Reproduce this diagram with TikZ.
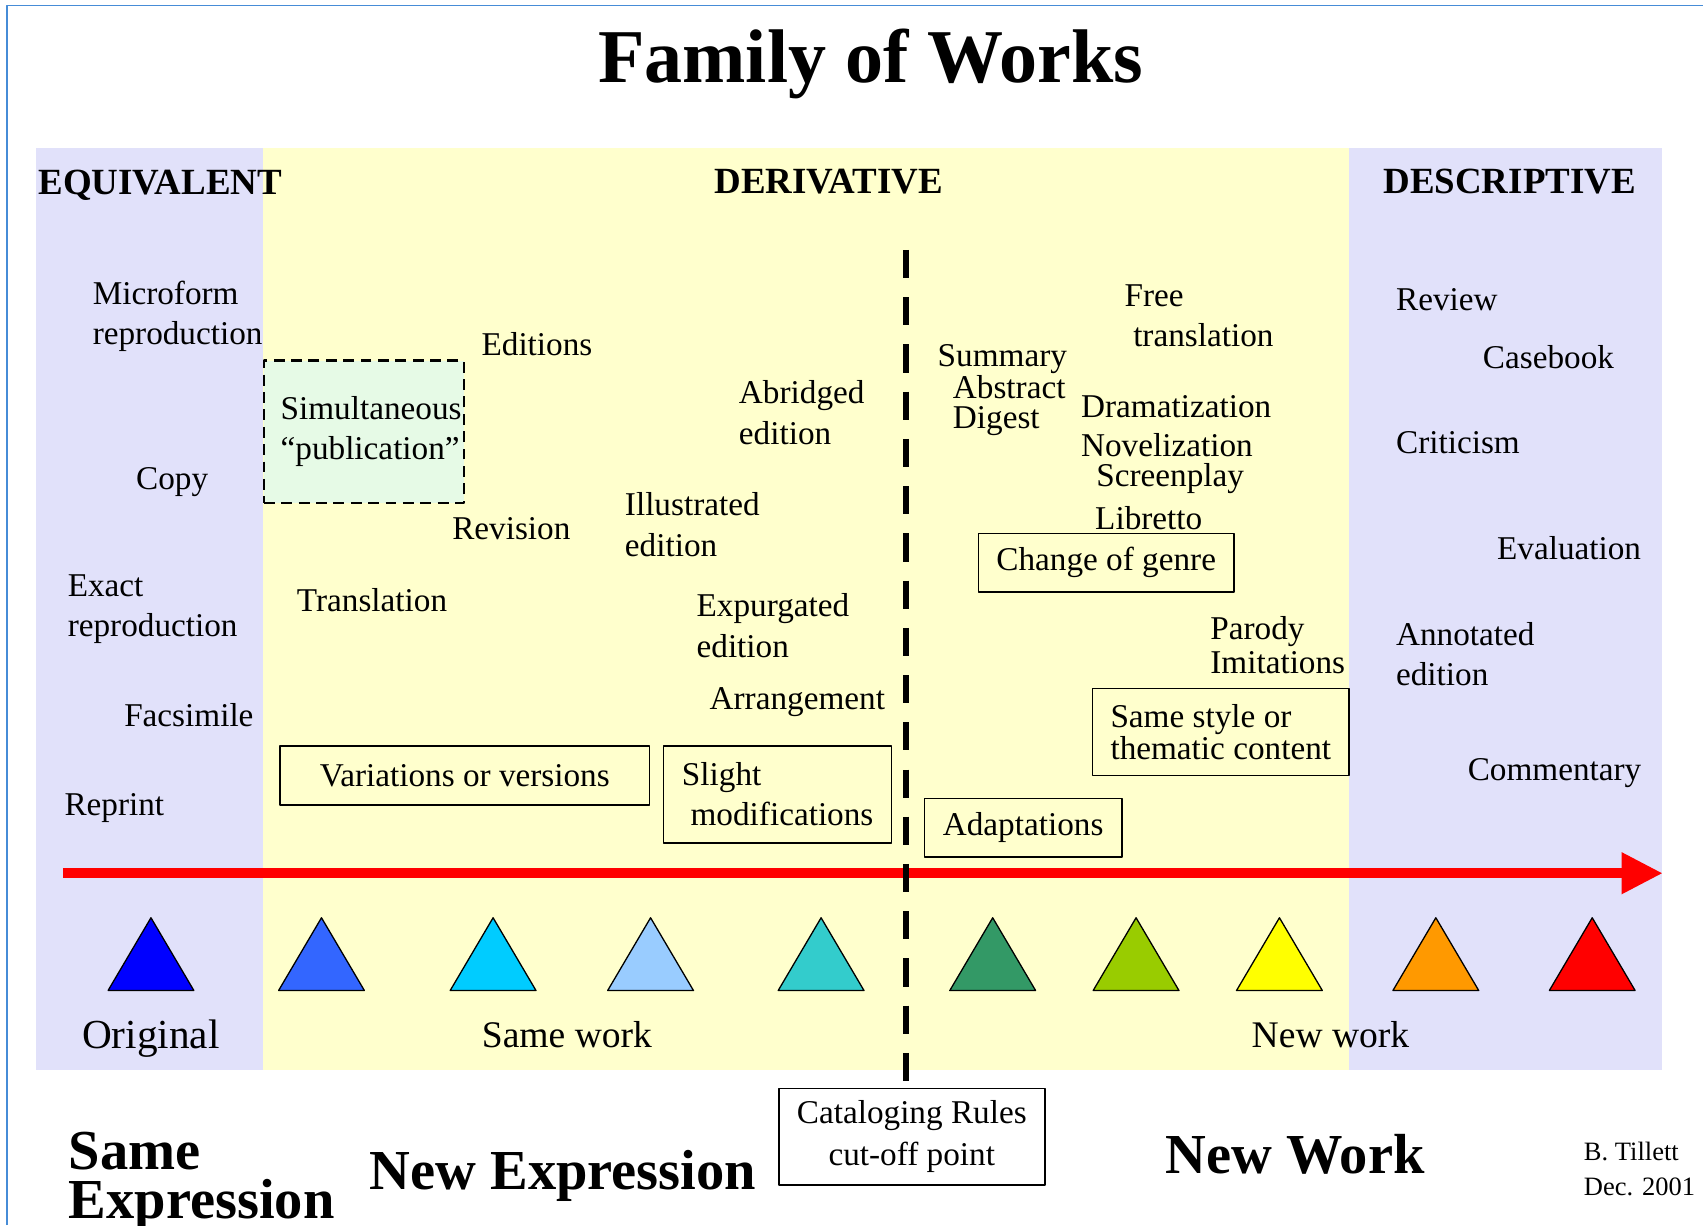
\documentclass[tikz,border=0pt]{standalone}
\usepackage{fontspec}
\setmainfont{Liberation Serif}
\usetikzlibrary{arrows.meta}

\definecolor{lavender}{RGB}{225,225,250}
\definecolor{paleyellow}{RGB}{255,255,205}
\definecolor{palegreen}{RGB}{230,250,230}
\definecolor{frameblue}{RGB}{70,140,215}

\begin{document}
\begin{tikzpicture}[x=0.5pt, y=-0.5pt,
  every node/.style={inner sep=0pt},
  item/.style={anchor=west, align=left, font=\fontsize{15.3}{18.5}\selectfont},
  head/.style={font=\bfseries\fontsize{17}{20}\selectfont},
  big/.style={anchor=west, align=left, font=\bfseries\fontsize{26}{22.5}\selectfont},
  framed/.style={draw=black, line width=0.7pt, align=left,
    font=\fontsize{15.3}{18.5}\selectfont},
  line join=round]

  \useasboundingbox (0,0) rectangle (1568,1128);

  % Frame
  \draw [frameblue, line width=0.8pt] (6.5,1128) -- (6.5,5) -- (1568,5);

  % Draw bands
  \fill [lavender] (33,136) rectangle (242,985);
  \fill [paleyellow] (242,136) rectangle (1242,985);
  \fill [lavender] (1242,136) rectangle (1530,985);

  % Titles
  \node [font=\bfseries\fontsize{35}{40}\selectfont] (title) at (801.5,58.5) {Family of Works};
  \node [head, anchor=west] (equiv) at (35,171) {EQUIVALENT};
  \node [head] (deriv) at (763,167) {DERIVATIVE};
  \node [head] (descr) at (1390,167) {DESCRIPTIVE};

  % Equivalent
  \node [item] (microform) at (85,291) {Microform\\reproduction};
  \node [item] (copy) at (125,444) {Copy};
  \node [item] (exact) at (62,561) {Exact\\reproduction};
  \node [item] (facsimile) at (114,658) {Facsimile};
  \node [item] (reprint) at (59,744) {Reprint};

  % Derivative, same work
  \node [draw=black, dashed, line width=1pt, dash pattern=on 5pt off 3pt, fill=palegreen,
    minimum width=92pt, minimum height=65.5pt] (simul) at (335,397.5) {};
  \node [item] (simultext) at ([xshift=8pt]simul.west) {Simultaneous\\“publication”};
  \node [item] (editions) at (443,317) {Editions};
  \node [item] (revision) at (416,487) {Revision};
  \node [item] (translation) at (273,553) {Translation};
  \node [item] (abridged) at (680,380) {Abridged\\edition};
  \node [item] (illustrated) at (575,483) {Illustrated\\edition};
  \node [item] (expurgated) at (641,576) {Expurgated\\edition};
  \node [item] (arrangement) at (653,646) {Arrangement};
  \node [framed, minimum width=170pt, minimum height=27pt] (variations) at (428,714)
    {Variations or versions};
  \node [framed, minimum width=105pt, minimum height=44.5pt] (slight) at (716,731.5)
    {Slight\\\hspace*{4pt}modifications};

  % Derivative, new work
  \node [item, font=\fontsize{15.3}{13.5}\selectfont] (summary) at (863,359)
    {Summary\\\hspace*{7pt}Abstract\\\hspace*{7pt}Digest};
  \node [item] (freetrans) at (1035,290.5) {Free\\\hspace*{4pt}translation};
  \node [item] (dramatization) at (995,374) {Dramatization};
  \node [item] (novelization) at (995,410) {Novelization};
  \node [item] (screenplay) at (1009,441) {Screenplay};
  \node [item] (libretto) at (1008,477) {Libretto};
  \node [framed, minimum width=117.5pt, minimum height=27pt] (genre) at (1018.5,518)
    {Change of genre};
  \node [item, font=\fontsize{15.3}{16}\selectfont] (parody) at (1114,594) {Parody\\Imitations};
  \node [framed, font=\fontsize{15.3}{13.5}\selectfont, minimum width=118pt, minimum height=40pt]
    (samestyle) at (1124,674) {Same style or\\thematic content};
  \node [framed, minimum width=91pt, minimum height=27pt] (adaptations) at (942,762)
    {Adaptations};

  % Descriptive
  \node [item] (review) at (1285,276) {Review};
  \node [item] (casebook) at (1365,329) {Casebook};
  \node [item] (criticism) at (1285,408) {Criticism};
  \node [item] (evaluation) at (1378,505) {Evaluation};
  \node [item] (annotated) at (1285,602) {Annotated\\edition};
  \node [item] (commentary) at (1351,712) {Commentary};

  % Time line
  \coordinate (timeline start) at (58,804);
  \coordinate (timeline end) at (1531,804);
  \draw [red, line width=4.6pt, -{Triangle[length=19pt, width=18pt]}]
    (timeline start) -- (timeline end);

  % Draw triangles
  \foreach \x/\c in {139/0000FF, 296/3366FF, 454/00CCFF, 599/99CCFF, 756/33CCCC,
      914/339966, 1046/99CC00, 1178/FFFF00, 1322/FF9900, 1466/FF0000}{%
    \definecolor{trifill}{HTML}{\c}
    \path [fill=trifill, draw=black, line width=0.6pt]
    (\x-39.5, 912) --
    (\x+39.5, 912) --
    (\x, 845) --
    cycle;
  }

  \node [font=\fontsize{19}{22}\selectfont] (original) at (139,956) {Original};
  \node [font=\fontsize{17.3}{20}\selectfont] (samework) at (522,953) {Same work};
  \node [font=\fontsize{17.3}{20}\selectfont] (newwork) at (1225,953) {New work};

  % Cut-off point
  \node [framed, fill=white, align=center, font=\fontsize{15.3}{19}\selectfont,
    minimum width=122.5pt, minimum height=44.5pt] (catalog) at (839.5,1046.5)
    {Cataloging Rules\\cut-off point};
  \coordinate (cutoff) at (834,230);
  \draw [line width=2.75pt, dash pattern=on 13pt off 8.75pt] (cutoff) -- (cutoff |- catalog.north);

  % Bottom labels
  \node [big] (sameexpr) at (63,1088) {Same\\Expression};
  \node [big] (newexpr) at (340,1083) {New Expression};
  \node [big] (newworkbig) at (1073,1063) {New Work};
  \node [item, font=\fontsize{12.2}{16}\selectfont] (tillett) at (1458,1076) {B. Tillett\\Dec. 2001};

\end{tikzpicture}
\end{document}
